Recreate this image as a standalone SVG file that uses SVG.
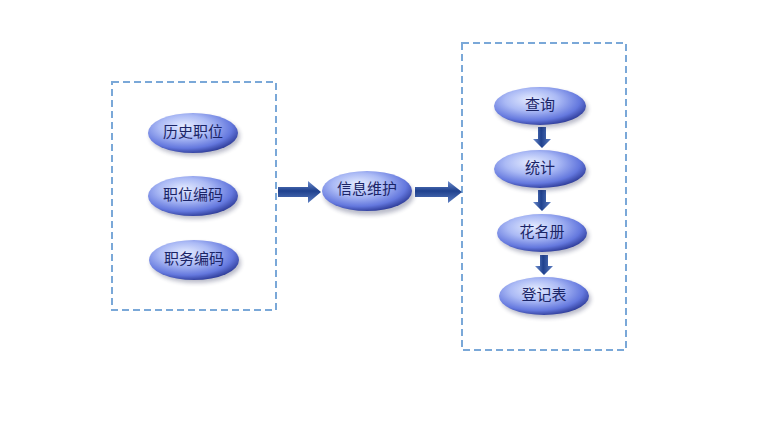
<svg xmlns="http://www.w3.org/2000/svg" width="760" height="430" viewBox="0 0 760 430">
  <style>
    .frame { fill: none; stroke: #7aa8d8; stroke-width: 2; stroke-dasharray: 7 4; }
    .node ellipse.body { fill: url(#orb); }
    .node ellipse.shade { fill: #1c2050; opacity: 0.3; filter: url(#soft); }
    .node text { font-family: "Liberation Serif", "Noto Sans CJK SC", serif; font-size: 15px; fill: #1a2466; text-anchor: middle; dominant-baseline: central; }
    .arrow { fill: url(#shaftH); }
    .arrowV { fill: url(#shaftV); }
  </style>
  <defs>
    <radialGradient id="orb" cx="0.42" cy="0.38" r="0.72" fx="0.4" fy="0.32">
      <stop offset="0" stop-color="#e4ebff"/>
      <stop offset="0.4" stop-color="#abbaf5"/>
      <stop offset="0.72" stop-color="#6478de"/>
      <stop offset="0.9" stop-color="#2f3d9a"/>
      <stop offset="1" stop-color="#141a4c"/>
    </radialGradient>
    <linearGradient id="shaftH" x1="0" y1="0" x2="0" y2="1">
      <stop offset="0" stop-color="#6f8fcf"/>
      <stop offset="0.45" stop-color="#1f418e"/>
      <stop offset="1" stop-color="#5b7cc0"/>
    </linearGradient>
    <linearGradient id="shaftV" x1="0" y1="0" x2="1" y2="0">
      <stop offset="0" stop-color="#6f8fcf"/>
      <stop offset="0.45" stop-color="#1f418e"/>
      <stop offset="1" stop-color="#5b7cc0"/>
    </linearGradient>
    <filter id="soft" x="-20%" y="-30%" width="140%" height="160%">
      <feGaussianBlur stdDeviation="2"/>
    </filter>
  </defs>

  <!-- dashed group frames -->
  <rect class="frame" x="112" y="82" width="164" height="228"/>
  <rect class="frame" x="462" y="43" width="164" height="307"/>

  <!-- connectors -->
  <g id="connectors">
    <path class="arrow" d="M278 187 H308 V181 L321 192 L308 203 V197 H278 Z"/>
    <path class="arrow" d="M415 187 H448 V181 L462 192 L448 203 V197 H415 Z"/>
    <path class="arrowV" d="M538 127 H546 V139 H551 L542 148 L533 139 H538 Z"/>
    <path class="arrowV" d="M538 190 H546 V202 H551 L542 211 L533 202 H538 Z"/>
    <path class="arrowV" d="M540 255 H548 V266 H553 L544 275 L535 266 H540 Z"/>
  </g>

  <g id="n-lishi" class="node">
    <ellipse class="shade" cx="195" cy="136" rx="45" ry="20"/>
    <ellipse class="body" cx="193" cy="133" rx="45" ry="20"/>
    <text x="193" y="132">历史职位</text>
  </g>
  <g id="n-zhiwei" class="node">
    <ellipse class="shade" cx="195" cy="199" rx="45" ry="20"/>
    <ellipse class="body" cx="193" cy="196" rx="45" ry="20"/>
    <text x="193" y="195">职位编码</text>
  </g>
  <g id="n-zhiwu" class="node">
    <ellipse class="shade" cx="196" cy="263" rx="45" ry="20"/>
    <ellipse class="body" cx="194" cy="260" rx="45" ry="20"/>
    <text x="194" y="259">职务编码</text>
  </g>
  <g id="n-weihu" class="node">
    <ellipse class="shade" cx="369" cy="195" rx="45" ry="20"/>
    <ellipse class="body" cx="367" cy="191" rx="45" ry="20"/>
    <text x="367" y="189">信息维护</text>
  </g>
  <g id="n-chaxun" class="node">
    <ellipse class="shade" cx="542" cy="109" rx="46" ry="19"/>
    <ellipse class="body" cx="540" cy="106" rx="46" ry="19"/>
    <text x="540" y="105">查询</text>
  </g>
  <g id="n-tongji" class="node">
    <ellipse class="shade" cx="542" cy="172" rx="46" ry="19"/>
    <ellipse class="body" cx="540" cy="169" rx="46" ry="19"/>
    <text x="540" y="168">统计</text>
  </g>
  <g id="n-huamingce" class="node">
    <ellipse class="shade" cx="544" cy="236" rx="45" ry="19"/>
    <ellipse class="body" cx="542" cy="233" rx="45" ry="19"/>
    <text x="542" y="232">花名册</text>
  </g>
  <g id="n-dengjibiao" class="node">
    <ellipse class="shade" cx="546" cy="299" rx="45" ry="19"/>
    <ellipse class="body" cx="544" cy="296" rx="45" ry="19"/>
    <text x="544" y="295">登记表</text>
  </g>
</svg>
